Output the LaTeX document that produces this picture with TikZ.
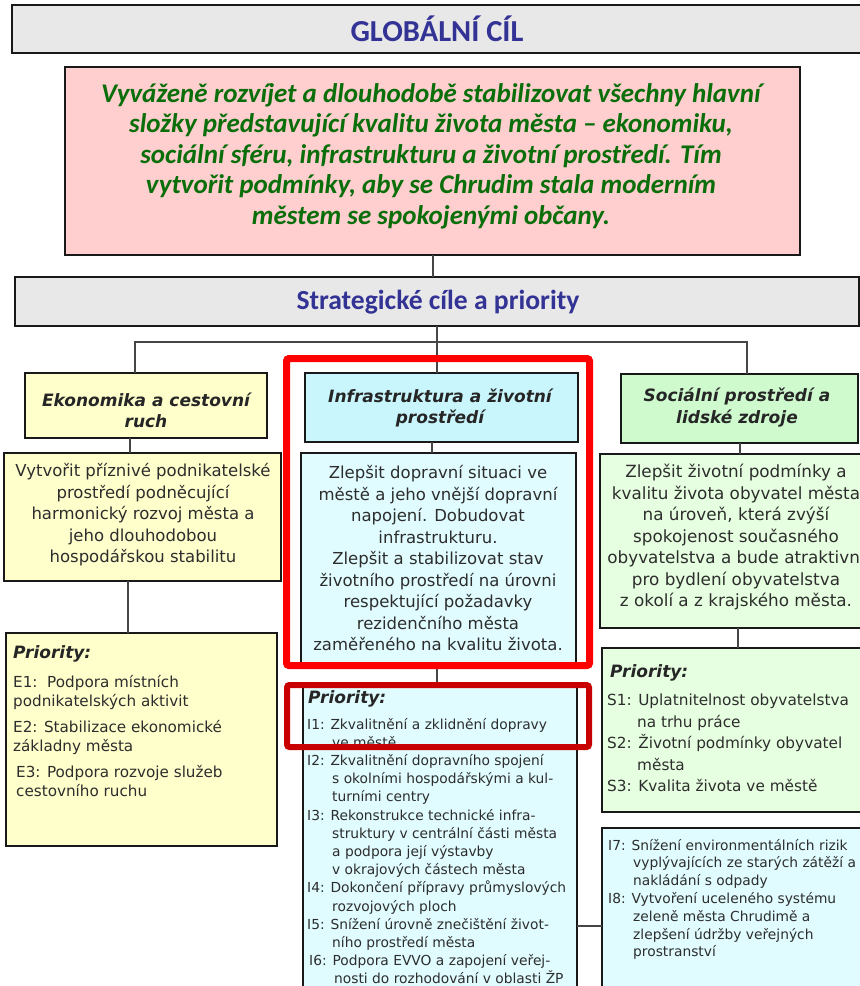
\documentclass[tikz,border=0pt]{standalone}
\usepackage{fontspec}
\setmainfont{DejaVu Sans}
\newfontfamily\cfont{Carlito}
\usetikzlibrary{shadows}
\definecolor{titleblue}{RGB}{51,51,150}
\definecolor{goalgreen}{RGB}{10,110,10}
\definecolor{graybox}{RGB}{232,232,232}
\definecolor{pinkbox}{RGB}{255,206,206}
\definecolor{yelbox}{RGB}{255,255,204}
\definecolor{cyanhead}{RGB}{200,246,252}
\definecolor{cyanbox}{RGB}{224,252,255}
\definecolor{greenhead}{RGB}{206,250,206}
\definecolor{greenbox}{RGB}{230,255,224}
\definecolor{textgray}{RGB}{45,45,45}
\definecolor{linegray}{RGB}{70,70,70}
\definecolor{redA}{RGB}{255,0,0}
\definecolor{redB}{RGB}{200,0,0}
\tikzset{
  box/.style={draw=black!90, line width=2pt, inner sep=0pt, outer sep=0pt,
    drop shadow={shadow xshift=1.2pt, shadow yshift=-1.2pt, fill=black!70, opacity=0.8}},
  conn/.style={draw=linegray, line width=1.3pt},
  hilite/.style={draw, line width=7pt, rounded corners=2.5pt, inner sep=0pt, minimum width=0pt},
  headtext/.style={align=center, text=black!85, font=\bfseries\itshape\fontsize{17}{21.5}\selectfont, inner sep=0pt},
  desctext/.style={align=center, text=textgray, font=\fontsize{16.5}{21.5}\selectfont, inner sep=0pt},
  prtitle/.style={anchor=base west, text=black!85, font=\bfseries\itshape\fontsize{17}{21}\selectfont, inner sep=0pt},
  listtext/.style={anchor=base west, align=left, text=textgray, inner sep=0pt},
}
\begin{document}
\begin{tikzpicture}[x=1pt,y=-1pt]
\useasboundingbox (0,0) rectangle (860,986);
\clip (0,0) rectangle (860,986);
\fill[white] (0,0) rectangle (860,986);

% top level boxes
\node[box, fill=graybox, minimum width=850pt, minimum height=48pt] (global) at (437,29) {};
\node[text=titleblue, font=\cfont\bfseries\fontsize{30.5}{34}\selectfont, inner sep=0pt] (globalT) at (437,29) {GLOBÁLNÍ CÍL};

\node[box, fill=pinkbox, minimum width=735pt, minimum height=188pt] (goal) at (432.5,161) {};
\node[align=center, text=goalgreen, font=\cfont\bfseries\itshape\fontsize{27}{30.5}\selectfont, inner sep=0pt] (goalT) at (431,156)
 {Vyváženě rozvíjet a dlouhodobě stabilizovat všechny hlavní\\
  složky představující kvalitu života města – ekonomiku,\\
  sociální sféru, infrastrukturu a životní prostředí. Tím\\
  vytvořit podmínky, aby se Chrudim stala moderním\\
  městem se spokojenými občany.};

\node[box, fill=graybox, minimum width=844pt, minimum height=49pt] (strat) at (437,301.5) {};
\node[text=titleblue, font=\cfont\bfseries\fontsize{27.6}{30}\selectfont, inner sep=0pt] (stratT) at (438,302) {Strategické cíle a priority};

% column headers
\node[box, fill=yelbox, minimum width=242pt, minimum height=65pt] (ekoH) at (146,405.5) {};
\node[headtext] (ekoHT) at (146,410.5) {Ekonomika a cestovní\\ruch};
\node[box, fill=cyanhead, minimum width=273pt, minimum height=69pt] (infH) at (441.5,407.5) {};
\node[headtext] (infHT) at (440,408) {Infrastruktura a životní\\prostředí};
\node[box, fill=greenhead, minimum width=237pt, minimum height=69pt] (socH) at (739.5,408.5) {};
\node[headtext] (socHT) at (737,407.5) {Sociální prostředí a\\lidské zdroje};

% descriptions
\node[box, fill=yelbox, minimum width=277pt, minimum height=128pt] (ekoD) at (142.5,517) {};
\node[desctext] (ekoDT) at (143,515) {Vytvořit příznivé podnikatelské\\prostředí podněcující\\harmonický rozvoj města a\\jeho dlouhodobou\\hospodářskou stabilitu};
\node[box, fill=cyanbox, minimum width=275pt, minimum height=210pt] (infD) at (438.5,558) {};
\node[desctext] (infDT) at (438,558.5) {Zlepšit dopravní situaci ve\\městě a jeho vnější dopravní\\napojení. Dobudovat\\infrastrukturu.\\Zlepšit a stabilizovat stav\\životního prostředí na úrovni\\respektující požadavky\\rezidenčního města\\zaměřeného na kvalitu života.};
\node[box, fill=greenbox, minimum width=270pt, minimum height=174pt] (socD) at (735,541) {};
\node[desctext, font=\fontsize{16.8}{21.5}\selectfont] (socDT) at (736,537.5) {Zlepšit životní podmínky a\\kvalitu života obyvatel města\\na úroveň, která zvýší\\spokojenost současného\\obyvatelstva a bude atraktivní\\pro bydlení obyvatelstva\\z okolí a z krajského města.};

% priority boxes (list nodes: anchor at baseline of their last line)
\node[box, fill=yelbox, minimum width=271pt, minimum height=213pt] (ekoP) at (141.5,739.5) {};
\node[prtitle] (ekoPT) at (13,658) {Priority:};
\node[listtext, font=\fontsize{15.2}{19}\selectfont] (ekoPL) at (13,796.5)
 {E1:\ \ Podpora místních\\podnikatelských aktivit\\[7pt]E2: Stabilizace ekonomické\\základny města\\[7pt]\hspace*{3pt}E3: Podpora rozvoje služeb\\\hspace*{3pt}cestovního ruchu};

\node[box, fill=cyanbox, minimum width=274pt, minimum height=315pt] (infP) at (440,842.5) {};
\node[prtitle] (infPT) at (308,703) {Priority:};
\node[listtext, font=\fontsize{13.8}{18.2}\selectfont] (infPL) at (307,983.8)
 {I1: Zkvalitnění a zklidnění dopravy\\\hspace*{25pt}ve městě\\
  I2: Zkvalitnění dopravního spojení\\\hspace*{25pt}s okolními hospodářskými a kul-\\\hspace*{25pt}turními centry\\
  I3: Rekonstrukce technické infra-\\\hspace*{25pt}struktury v centrální části města\\\hspace*{25pt}a podpora její výstavby\\\hspace*{25pt}v okrajových částech města\\
  I4: Dokončení přípravy průmyslových\\\hspace*{25pt}rozvojových ploch\\
  I5: Snížení úrovně znečištění život-\\\hspace*{25pt}ního prostředí města\\
  \hspace*{2pt}I6: Podpora EVVO a zapojení veřej-\\\hspace*{27pt}nosti do rozhodování v oblasti ŽP};

\node[box, fill=greenbox, minimum width=273pt, minimum height=164pt] (socP) at (738.5,730) {};
\node[prtitle] (socPT) at (610,677) {Priority:};
\node[listtext, font=\fontsize{15.3}{21.5}\selectfont] (socPL) at (607,791.5)
 {S1: Uplatnitelnost obyvatelstva\\\hspace*{30pt}na trhu práce\\S2: Životní podmínky obyvatel\\\hspace*{30pt}města\\S3: Kvalita života ve městě};

\node[box, fill=cyanbox, minimum width=273pt, minimum height=172pt] (infP2) at (738.5,914) {};
\node[listtext, font=\fontsize{13.8}{17.8}\selectfont] (infP2L) at (608,956.8)
 {I7: Snížení environmentálních rizik\\\hspace*{25pt}vyplývajících ze starých zátěží a\\\hspace*{25pt}nakládání s odpady\\
  I8: Vytvoření uceleného systému\\\hspace*{25pt}zeleně města Chrudimě a\\\hspace*{25pt}zlepšení údržby veřejných\\\hspace*{25pt}prostranství};

% connectors
\coordinate (jn) at (437,342);
\coordinate (jl) at (135,342);
\coordinate (jr) at (747,342);
\coordinate (cg) at (433,0);
\coordinate (ce1) at (130,0);
\coordinate (ce2) at (128,0);
\coordinate (ci1) at (432,0);
\coordinate (ci2) at (437,0);
\coordinate (cs1) at (740,0);
\coordinate (cs2) at (738,0);
\coordinate (cy) at (0,926);
\draw[conn] (goal.south -| cg) -- (strat.north -| cg);
\draw[conn] (strat.south -| jn) -- (jn);
\draw[conn] (jl |- ekoH.north) -- (jl) -- (jr) -- (jr |- socH.north);
\draw[conn] (jn) -- (jn |- infH.north);
\draw[conn] (ekoH.south -| ce1) -- (ekoD.north -| ce1);
\draw[conn] (ekoD.south -| ce2) -- (ekoP.north -| ce2);
\draw[conn] (infH.south -| ci1) -- (infD.north -| ci1);
\draw[conn] (infD.south -| ci2) -- (infP.north -| ci2);
\draw[conn] (socH.south -| cs1) -- (socD.north -| cs1);
\draw[conn] (socD.south -| cs2) -- (socP.north -| cs2);
\draw[conn] (infP.east |- cy) -- (infP2.west |- cy);

% red highlight frames
\node[hilite, draw=redA, minimum width=303pt, minimum height=307pt] (hl1) at (438,512) {};
\node[hilite, draw=redB, line width=6pt, minimum width=302pt, minimum height=62pt] (hl2) at (438,716) {};
\end{tikzpicture}
\end{document}
